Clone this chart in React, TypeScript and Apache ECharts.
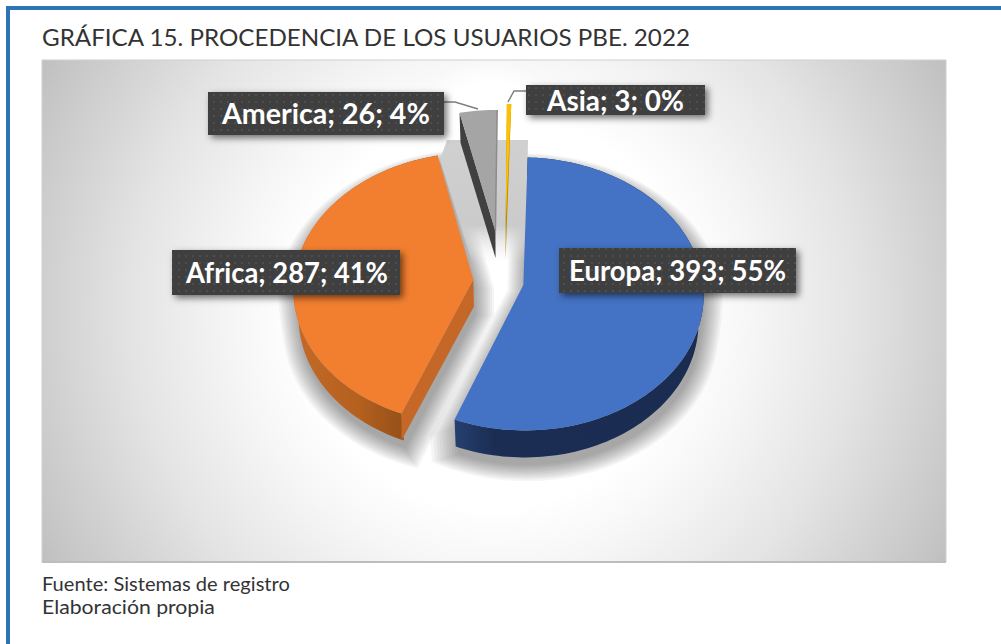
import React, { useEffect, useRef } from "react";
import * as echarts from "echarts";

const categories = ["Europa", "Africa", "America", "Asia"];
const values = [393, 287, 26, 3];
const percentLabels = ["55%", "41%", "4%", "0%"];

const W = 1001, H = 644;
const FONT = "Lato";
const TITLE = "GRÁFICA 15. PROCEDENCIA DE LOS USUARIOS PBE. 2022";
const NOTE1 = "Fuente: Sistemas de registro";
const NOTE2 = "Elaboración propia";

// perspective view of the disc
const CX = 498.5, CY = 281, RX = 179.5, RY = 135.4, PERSP = 0.066, DEPTH = 27, START = 2;
const BOTTOM_SCALE = 0.975;
const EXPLODE = [0.141, 0.141, 0.38, 0.43];
const SHIFT_X = [0, 0, 4, 5.5];
const TOPS = ["#4472c4", "#f27f30", "#a5a5a5", "#ffc000"];
const CUTS = ["#1a2c52", "#c46727", "#404040", "#b98b00"];

// label boxes: x, y, w, h, textX, textW
const BOXES = [
  [559, 248, 237, 45, 569, 217],
  [172, 250, 228, 45, 186, 202],
  [208, 92, 236, 43, 222, 208],
  [526, 85, 179, 30, 547, 137],
];
const LEADERS: number[][][] = [
  [],
  [],
  [[444, 102], [455, 102], [478, 109]],
  [[526, 91], [514, 91], [508, 102]],
];
// outline of the soft grey cast between the far slices
const CAST = [[447, 140], [528, 140], [526, 262], [472, 262], [440, 160]];
const SHADOW_LAYERS = 10, SHADOW_ALPHA = 0.038, SHADOW_GROW = 0.1, SHADOW_DX = 2, SHADOW_DY = 8;

const project = (u: number, v: number, drop = 0, sx = 0): number[] => {
  const w = 1 + PERSP * v;
  const scale = 1 - ((1 - BOTTOM_SCALE) * drop) / DEPTH;
  return [CX + sx + (RX * u * scale) / w, CY - (RY * v) / w + drop];
};
const rad = (d: number) => (d * Math.PI) / 180;

const measure = (text: string, font: string) => {
  const c = document.createElement("canvas").getContext("2d")!;
  c.font = font;
  return c.measureText(text).width;
};

const fitText = (text: string, x: number, y: number, size: number, width: number) => ({
  type: "text",
  x,
  y,
  scaleX: width / measure(text, `${size}px ${FONT}`),
  style: { text, fill: "#333333", font: `${size}px ${FONT}`, verticalAlign: "middle", align: "left" },
});

const makePattern = () => {
  const c = document.createElement("canvas");
  c.width = 7;
  c.height = 7;
  const g = c.getContext("2d")!;
  g.fillStyle = "#3f3f3f";
  g.fillRect(0, 0, 7, 7);
  g.fillStyle = "#4e4e4e";
  g.fillRect(3, 3, 2, 2);
  return c.toDataURL();
};

export default function App() {
  const ref = useRef<HTMLDivElement>(null);
  useEffect(() => {
    const chart = echarts.init(ref.current!, undefined, { renderer: "svg", width: W, height: H });
    const total = values.reduce((a, b) => a + b, 0);
    const pattern = makePattern();

    const angles: number[][] = [];
    let acc = START;
    values.forEach((v) => {
      const sweep = (v / total) * 360;
      angles.push([acc, acc + sweep]);
      acc += sweep;
    });

    const sliceGeom = (i: number) => {
      const [a0, a1] = angles[i];
      const mid = rad((a0 + a1) / 2);
      const ax = EXPLODE[i] * Math.sin(mid), ay = EXPLODE[i] * Math.cos(mid);
      const n = Math.max(4, Math.ceil((a1 - a0) / 1.5));
      const rim = (drop: number) => {
        const pts: number[][] = [];
        for (let j = 0; j <= n; j++) {
          const t = rad(a0 + ((a1 - a0) * j) / n);
          pts.push(project(ax + Math.sin(t), ay + Math.cos(t), drop, SHIFT_X[i]));
        }
        return pts;
      };
      // silhouette of the slice with its wall, grown outwards by g (disc units)
      const silhouette = (g: number) => {
        const half = rad((a1 - a0) / 2);
        const back = g / Math.sin(half);
        const bx = ax - back * Math.sin(mid), by = ay - back * Math.cos(mid);
        const pts: number[][] = [];
        const t0 = rad(a0) - g, t1 = rad(a1) + g;
        const dropAt = (t: number) => DEPTH * Math.min(1, Math.max(0, -Math.cos(t) * 4));
        for (let j = 0; j <= n; j++) {
          const t = t0 + ((t1 - t0) * j) / n;
          pts.push(project(ax + (1 + g) * Math.sin(t), ay + (1 + g) * Math.cos(t), dropAt(t), SHIFT_X[i]));
        }
        const last = project(ax + (1 + g) * Math.sin(t1), ay + (1 + g) * Math.cos(t1), 0, SHIFT_X[i]);
        return [project(bx, by, 0, SHIFT_X[i]), project(bx, by, i === 1 ? DEPTH : 0, SHIFT_X[i]), ...pts, last];
      };
      return { apex: (d: number) => project(ax, ay, d, SHIFT_X[i]), rim, silhouette };
    };

    const wallFill = (i: number) =>
      i === 0
        ? new echarts.graphic.LinearGradient(0, 0, 1, 0, [
            { offset: 0, color: "#25406f" },
            { offset: 0.16, color: "#1b2d53" },
            { offset: 1, color: "#1a2c50" },
          ])
        : new echarts.graphic.LinearGradient(0, 0, 1, 0, [
            { offset: 0, color: "#c46a28" },
            { offset: 0.45, color: "#b4601f" },
            { offset: 1, color: "#7c4314" },
          ]);

    const renderShadow = (_: any, api: any) => {
      const i = api.value(0) as number;
      if (i === 3) return { type: "group", children: [] };
      if (i === 2) {
        return {
          type: "group",
          children: [
            {
              type: "polygon",
              shape: { points: CAST },
              style: {
                fill: new echarts.graphic.LinearGradient(0, 0, 0, 1, [
                  { offset: 0, color: "#d0d0d0" },
                  { offset: 0.7, color: "#cbcbcb" },
                  { offset: 1, color: "rgba(235,235,235,0)" },
                ]),
              },
            },
            // white area above the cast
            {
              type: "rect",
              shape: { x: 410, y: 60, width: 160, height: 80 },
              style: {
                fill: new echarts.graphic.RadialGradient(490, 140, 80, [
                  { offset: 0, color: "#ffffff" },
                  { offset: 0.72, color: "#ffffff" },
                  { offset: 1, color: "rgba(255,255,255,0)" },
                ], true),
              },
            },
          ],
        };
      }
      const g = sliceGeom(i);
      const children: any[] = [];
      for (let k = 0; k < SHADOW_LAYERS; k++) {
        children.push({
          type: "polygon",
          x: SHADOW_DX,
          y: SHADOW_DY,
          shape: { points: g.silhouette((SHADOW_GROW * k) / (SHADOW_LAYERS - 1)) },
          style: { fill: `rgba(0,0,0,${SHADOW_ALPHA})` },
        });
      }
      return { type: "group", children };
    };

    const renderSlice = (_: any, api: any) => {
      const i = api.value(0) as number;
      const g = sliceGeom(i);
      const top = g.rim(0);
      const children: any[] = [];
      if (i < 2) {
        children.push({
          type: "polygon",
          shape: { points: [...top, ...g.rim(DEPTH).reverse()] },
          style: { fill: wallFill(i) },
        });
      }
      if (i === 1) {
        const p = top[0];
        children.push({
          type: "polygon",
          shape: { points: [g.apex(0), p, [p[0], p[1] + DEPTH], g.apex(DEPTH)] },
          style: { fill: CUTS[i] },
        });
      }
      if (i === 2) {
        const c = top[0];
        children.push({
          type: "polygon",
          shape: { points: [c, [c[0] + 1, c[1] + DEPTH + 3], g.apex(DEPTH), g.apex(0)] },
          style: { fill: CUTS[i] },
        });
      }
      if (i === 3) {
        const p = top[0];
        children.push({
          type: "polygon",
          shape: { points: [p, g.apex(0), g.apex(DEPTH + 8), top[top.length - 1]] },
          style: { fill: CUTS[i] },
        });
      }
      children.push({
        type: "polygon",
        shape: { points: [g.apex(0), ...top] },
        style: { fill: TOPS[i] },
      });
      if (i === 2) {
        children.push({
          type: "polyline",
          shape: { points: [g.apex(0), top[top.length - 1]] },
          style: { stroke: "#8c8c8c", lineWidth: 1.5, fill: "none" },
        });
      }
      return { type: "group", children };
    };

    const renderLabel = (_: any, api: any) => {
      const i = api.value(0) as number;
      const [x, y, w, h, tx, tw] = BOXES[i];
      const text = `${categories[i]}; ${api.value(1)}; ${percentLabels[i]}`;
      const font = `bold 28px ${FONT}`;
      const children: any[] = [];
      if (LEADERS[i].length) {
        children.push({
          type: "polyline",
          shape: { points: LEADERS[i] },
          style: { stroke: "#7f7f7f", lineWidth: 1.5, fill: "none" },
        });
      }
      children.push({
        type: "rect",
        shape: { x, y, width: w, height: h },
        style: { fill: "#3f3f3f", shadowBlur: 7, shadowColor: "rgba(0,0,0,0.55)", shadowOffsetX: 3, shadowOffsetY: 3 },
      });
      children.push({
        type: "rect",
        shape: { x, y, width: w, height: h },
        style: { fill: { image: pattern, repeat: "repeat", imageWidth: 7, imageHeight: 7 } as any },
      });
      children.push({
        type: "text",
        x: tx,
        y: y + h / 2,
        scaleX: tw / measure(text, font),
        style: { text, font, fill: "#ffffff", verticalAlign: "middle", align: "left" },
      });
      return { type: "group", children };
    };

    const indexed = values.map((v, i) => [i, v]);

    chart.setOption({
      animation: false,
      graphic: [
        { type: "rect", shape: { x: 6, y: 6, width: W - 6, height: 4 }, style: { fill: "#2e74b5" } },
        { type: "rect", shape: { x: 6, y: 6, width: 4, height: H - 6 }, style: { fill: "#2e74b5" } },
        fitText(TITLE, 42, 37, 24, 650),
        {
          type: "rect",
          shape: { x: 42, y: 60, width: 904, height: 502 },
          style: {
            fill: new echarts.graphic.RadialGradient(494, 311, 517, [
              { offset: 0, color: "#ffffff" },
              { offset: 0.38, color: "#ffffff" },
              { offset: 0.5, color: "#f6f6f6" },
              { offset: 0.7, color: "#e4e4e4" },
              { offset: 0.95, color: "#c6c6c6" },
              { offset: 1, color: "#bfbfbf" },
            ], true),
            stroke: "#cfcfcf",
            lineWidth: 1,
          },
        },
        { type: "rect", shape: { x: 42, y: 561, width: 904, height: 2 }, style: { fill: "#bdbdbd" } },
        fitText(NOTE1, 42, 584, 19, 248),
        fitText(NOTE2, 42, 606, 19, 173),
      ],
      series: [
        { type: "custom", coordinateSystem: "none", data: indexed, renderItem: renderShadow, z: 1, silent: true },
        { type: "custom", coordinateSystem: "none", data: indexed, renderItem: renderSlice, z: 2, silent: true },
        { type: "custom", coordinateSystem: "none", data: indexed, renderItem: renderLabel, z: 3, silent: true },
      ],
    });
    return () => chart.dispose();
  }, []);
  return (
    <div
      ref={ref}
      style={{ position: "fixed", left: 0, top: 0, width: W, height: H, background: "#ffffff" }}
    />
  );
}
